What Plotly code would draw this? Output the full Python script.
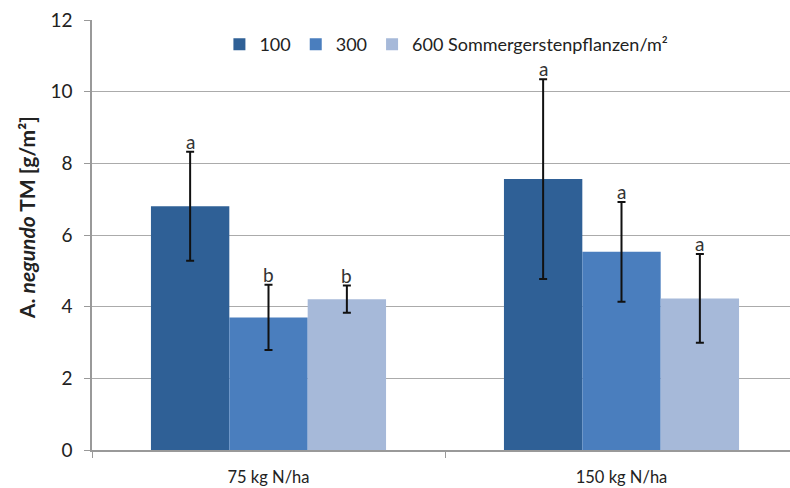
import plotly.graph_objects as go

categories = ["75 kg N/ha", "150 kg N/ha"]
series_names = ["100", "300", "600 Sommergerstenpflanzen/m²"]
values_100 = [6.80, 7.56]
values_300 = [3.70, 5.53]
values_600 = [4.21, 4.23]
err_100 = [1.52, 2.79]
err_300 = [0.91, 1.39]
err_600 = [0.38, 1.24]
letters_100 = ["a", "a"]
letters_300 = ["b", "a"]
letters_600 = ["b", "a"]
y_title = "<b>A. <i>negundo</i> TM [g/m²]</b>"

colors = ["#2F6096", "#4A7EBE", "#A6B9D9"]
series = [
    (series_names[0], values_100, err_100, letters_100),
    (series_names[1], values_300, err_300, letters_300),
    (series_names[2], values_600, err_600, letters_600),
]
FONT = "Lato, Open Sans, Liberation Sans, sans-serif"

fig = go.Figure()
for (name, vals, errs, letters), col in zip(series, colors):
    fig.add_trace(go.Bar(
        name=name, x=categories, y=vals, marker_color=col, marker_line_width=0,
        error_y=dict(type="data", array=errs, visible=True, color="#111111", thickness=2, width=4),
    ))

# letters above error bars
offsets = [-1, 0, 1]
annotations = []
for (name, vals, errs, letters), off in zip(series, offsets):
    for j, cat in enumerate(categories):
        annotations.append(dict(
            x=j + off * 0.222, y=vals[j] + errs[j], xref="x", yref="y",
            text=letters[j], showarrow=False, yanchor="bottom", yshift=-3,
            font=dict(family=FONT, size=19, color="#333333"),
        ))

# y-axis title (placed like the reference, slightly above the plot centre)
annotations.append(dict(
    x=-0.093, y=0.54, xref="paper", yref="paper", text=y_title, textangle=-90,
    showarrow=False, xanchor="center", yanchor="middle",
    font=dict(family=FONT, size=21, color="#222222"),
))

# The reference plot area runs slightly past the right edge of the picture,
# so the figure is a little wider than the 790px window (overflow hidden).
fig.update_layout(
    width=798, height=488,
    margin=dict(l=92, r=0, t=20, b=38, autoexpand=False),
    paper_bgcolor="white", plot_bgcolor="white",
    barmode="group", bargap=0.334, bargroupgap=0,
    font=dict(family=FONT, size=18, color="#222222"),
    legend=dict(orientation="h", x=0.502, xanchor="center", y=0.943, yanchor="middle",
                bgcolor="rgba(255,255,255,0)", font=dict(size=18), itemwidth=30,
                tracegroupgap=0, traceorder="normal"),
    annotations=annotations,
    showlegend=True,
)
fig.update_xaxes(
    type="category", showline=True, linecolor="#999999", linewidth=1.5,
    ticks="outside", tickson="boundaries", ticklen=6, tickcolor="#999999",
    showgrid=False, tickfont=dict(size=16.5), automargin=False, ticklabelstandoff=11,
)
fig.update_yaxes(
    range=[0, 12], dtick=2, showline=True, linecolor="#999999", linewidth=1.5,
    ticks="outside", ticklen=6, tickcolor="#999999",
    showgrid=True, gridcolor="#ABABAB", gridwidth=1.2, zeroline=False,
    tickfont=dict(size=19), automargin=False, ticklabelstandoff=8,
)
fig.write_html(
    "out.html",
    config={"displayModeBar": False},
    post_script="document.body.style.margin='0';document.body.style.overflow='hidden';",
)
